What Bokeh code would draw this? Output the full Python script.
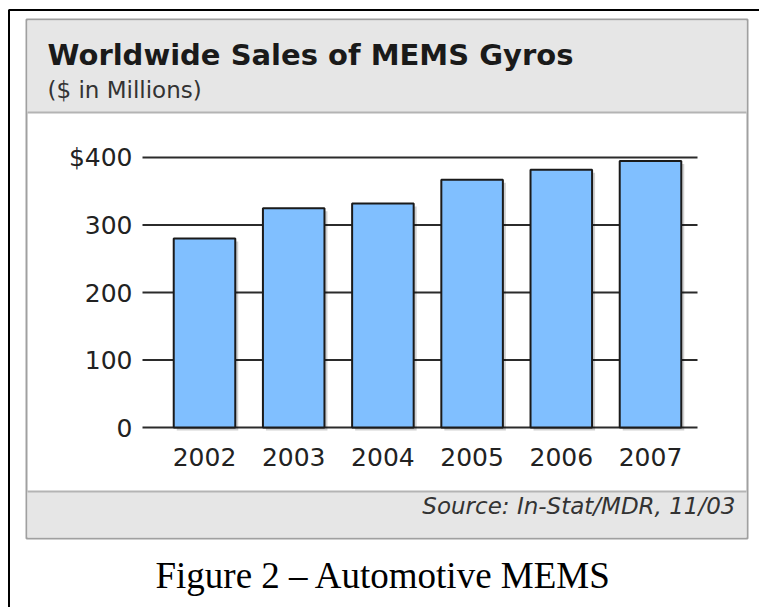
from bokeh.plotting import figure
from bokeh.models import Range1d
from bokeh.core.properties import value
from bokeh.embed import file_html
from bokeh.resources import INLINE

# ---- data ----
years = [2002, 2003, 2004, 2005, 2006, 2007]
sales = [280, 325, 332, 367, 382, 395]
y_ticks = [0, 100, 200, 300, 400]
y_tick_labels = ["0", "100", "200", "300", "$400"]
x_tick_labels = ["2002", "2003", "2004", "2005", "2006", "2007"]
title_text = "Worldwide Sales of MEMS Gyros"
subtitle_text = "($ in Millions)"
source_text = "Source: In-Stat/MDR, 11/03"
caption_text = "Figure 2 \u2013 Automotive MEMS"

# ---- layout (canvas pixels, y downward) ----
W, H = 759, 607
Y0_PX, YTOP_PX = 427, 157          # pixel rows of value 0 and value 400
X_FIRST_PX, X_STEP_PX = 204, 89.2  # centre of first bar, spacing
GRID_X0, GRID_X1 = 142, 697
SHADOW = 3

k = (Y0_PX - YTOP_PX) / float(y_ticks[-1])
y_start = 0 - (H - Y0_PX) / k
y_end = y_ticks[-1] + YTOP_PX / k
x_start = years[0] - X_FIRST_PX / X_STEP_PX
x_end = x_start + W / X_STEP_PX

p = figure(width=W, height=H, min_border=0, x_axis_type=None, y_axis_type=None,
           toolbar_location=None, output_backend="svg",
           x_range=Range1d(x_start, x_end), y_range=Range1d(y_start, y_end))
p.outline_line_color = None
p.background_fill_color = "white"
p.border_fill_color = "white"
p.grid.visible = False
p.extra_x_ranges = {"sx": Range1d(0, W),
                    "shx": Range1d(x_start - SHADOW / X_STEP_PX, x_end - SHADOW / X_STEP_PX)}
p.extra_y_ranges = {"sy": Range1d(H, 0),
                    "shy": Range1d(y_start + SHADOW / k, y_end + SHADOW / k)}

PX = dict(x_range_name="sx", y_range_name="sy")

# outer black frame (left and top edges)
p.line(x=[8.5, 8.5, W], y=[H, 9.5, 9.5], line_color="black", line_width=2, **PX)

# chart box
p.quad(left=[26], right=[747], top=[19], bottom=[538], fill_color="white",
       line_color="#a0a0a0", line_width=2, **PX)
p.quad(left=[27], right=[746], top=[20], bottom=[112], fill_color="#e6e6e6",
       line_color=None, **PX)
p.quad(left=[27], right=[746], top=[491], bottom=[537], fill_color="#e6e6e6",
       line_color=None, **PX)
p.segment(x0=[27, 27], x1=[746, 746], y0=[112, 491], y1=[112, 491],
          line_color="#b4b4b4", line_width=2, **PX)

# gridlines
p.segment(x0=[GRID_X0] * len(y_ticks), x1=[GRID_X1] * len(y_ticks), y0=y_ticks, y1=y_ticks,
          line_color="#2b2b2b", line_width=2, x_range_name="sx")

# bar shadows and bars
p.vbar(x=years, top=sales, bottom=0, width=0.69, fill_color="#000000", fill_alpha=0.18,
       line_color=None, x_range_name="shx", y_range_name="shy")
p.vbar(x=years, top=sales, bottom=0, width=0.69, fill_color="#80bfff",
       line_color="#1a1a1a", line_width=2)

# y tick labels
p.text(x=[132] * len(y_ticks), y=y_ticks, text=y_tick_labels,
       text_font=value("DejaVu Sans"), text_font_size="25px", text_color="#222222",
       text_align="right", text_baseline="middle", x_range_name="sx")
# x tick labels
p.text(x=years, y=[456] * len(years), text=x_tick_labels,
       text_font=value("DejaVu Sans"), text_font_size="25px", text_color="#222222",
       text_align="center", text_baseline="middle", y_range_name="sy")

# titles
p.text(x=[47], y=[54], text=[title_text], text_font=value("DejaVu Sans"),
       text_font_style="bold", text_font_size="29px", text_color="#1a1a1a",
       text_align="left", text_baseline="middle", **PX)
p.text(x=[47], y=[89], text=[subtitle_text], text_font=value("DejaVu Sans"),
       text_font_size="23px", text_color="#333333",
       text_align="left", text_baseline="middle", **PX)
# source
p.text(x=[735], y=[505], text=[source_text], text_font=value("DejaVu Sans"),
       text_font_style="italic", text_font_size="23px", text_color="#333333",
       text_align="right", text_baseline="middle", **PX)
# caption
p.text(x=[155], y=[575], text=[caption_text], text_font=value("Liberation Serif"),
       text_font_size="37px", text_color="black",
       text_align="left", text_baseline="middle", **PX)

open("out.html", "w").write(file_html(p, INLINE))
